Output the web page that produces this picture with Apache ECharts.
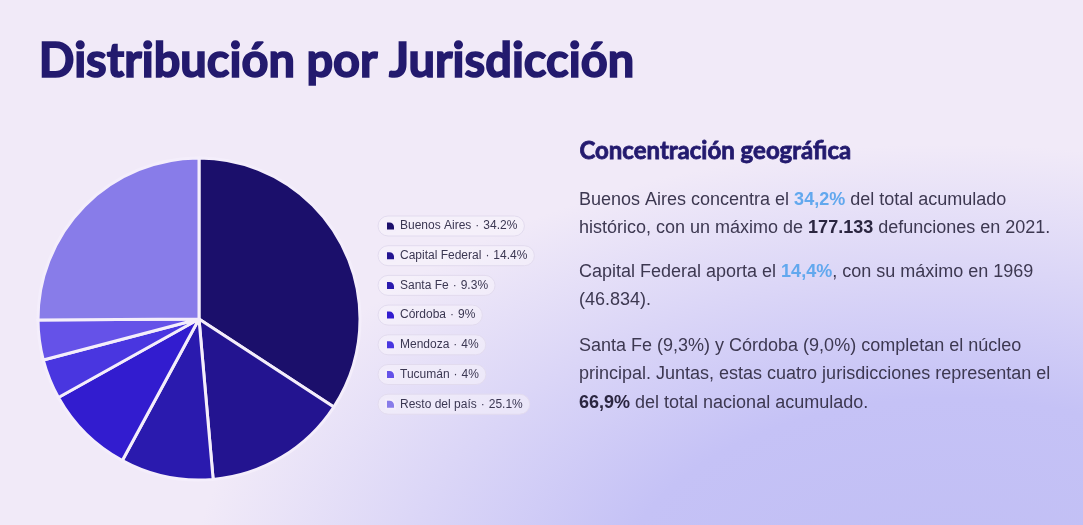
<!DOCTYPE html>
<html>
<head>
<meta charset="utf-8">
<script src="https://cdn.jsdelivr.net/npm/echarts@6/dist/echarts.min.js"></script>
<style>
html,body{margin:0;padding:0;width:1083px;height:525px;overflow:hidden;}
body{background: radial-gradient(800px 480px at 950px 600px, #c0bef4 0%, #c5c2f6 42%, rgba(241,234,248,0) 95%), #f1eaf8;}
#c{width:1083px;height:525px;}
</style>
</head>
<body>
<div id="c"></div>
<script>
const categories = ['Buenos Aires','Capital Federal','Santa Fe','Córdoba','Mendoza','Tucumán','Resto del país'];
const shares = [34.2, 14.4, 9.3, 9.0, 4.0, 4.0, 25.1];
const colors = ['#1b0f6b','#231490','#2a1aae','#321ccf','#4936e0','#6552e8','#887ce9'];

const chart = echarts.init(document.getElementById('c'), null, {renderer:'canvas'});
const iconPath = 'path://M0,0 L4,0 A6,6 0 0 1 10,6 L10,10 L0,10 Z';
const LF = 'Liberation Sans, Arial, sans-serif';

const legends = categories.map((n,i)=>({
  data:[n],
  left:378,
  top:216 + i*29.7,
  orient:'vertical',
  icon: iconPath,
  itemWidth:9,
  itemHeight:9,
  padding:[4,7,4,7],
  backgroundColor:'rgba(248,244,252,0.55)',
  borderColor:'#e2dbee',
  borderWidth:1,
  borderRadius:10,
  selectedMode:false,
  formatter: name => '{n|' + name + '}{d|·}{n|' + shares[categories.indexOf(name)] + '%}',
  textStyle:{fontFamily:LF, fontSize:12, color:'#3b3752',
    rich:{
      n:{fontFamily:LF, fontSize:12, color:'#3b3752'},
      d:{fontFamily:LF, fontSize:12, color:'#3b3752', padding:[0,4,0,4]}
    }}
}));

const txt = '#3d3851', strong = '#2b2640', blue = '#62a8ee';
const F = 'Liberation Sans, Arial, sans-serif';
const rich = {
  n:{fontFamily:F, fontSize:18, fill:txt, color:txt, lineHeight:28.5},
  b:{fontFamily:F, fontSize:18, fill:blue, color:blue, fontWeight:'bold', lineHeight:28.5},
  k:{fontFamily:F, fontSize:18, fill:strong, color:strong, fontWeight:'bold', lineHeight:28.5}
};

chart.setOption({
  backgroundColor:'transparent',
  color: colors,
  legend: legends,
  graphic:[
    {type:'text', left:38, top:38, style:{text:'Distribución por Jurisdicción', font:'bold 47px Lato, sans-serif', fill:'#231a6e', stroke:'#231a6e', lineWidth:1.6}},
    {type:'text', left:579, top:139, style:{text:'Concentración geográfica', font:'bold 24px Lato, sans-serif', fill:'#231a6e', stroke:'#231a6e', lineWidth:0.8}},
    {type:'text', left:579, top:191, style:{rich:rich, text:'{n|Buenos Aires concentra el }{b|34,2%}{n| del total acumulado}\n{n|histórico, con un máximo de }{k|177.133}{n| defunciones en 2021.}'}},
    {type:'text', left:579, top:263, style:{rich:rich, text:'{n|Capital Federal aporta el }{b|14,4%}{n|, con su máximo en 1969}\n{n|(46.834).}'}},
    {type:'text', left:579, top:337, style:{rich:rich, text:'{n|Santa Fe (9,3%) y Córdoba (9,0%) completan el núcleo}\n{n|principal. Juntas, estas cuatro jurisdicciones representan el}\n{k|66,9%}{n| del total nacional acumulado.}'}}
  ],
  series:[{
    type:'pie',
    center:[199,319],
    radius:[0,161],
    startAngle:90,
    clockwise:true,
    label:{show:false},
    labelLine:{show:false},
    itemStyle:{borderColor:'#f4eefb', borderWidth:3},
    emphasis:{disabled:true},
    data: categories.map((n,i)=>({name:n, value:shares[i]}))
  }]
});
</script>
</body>
</html>
